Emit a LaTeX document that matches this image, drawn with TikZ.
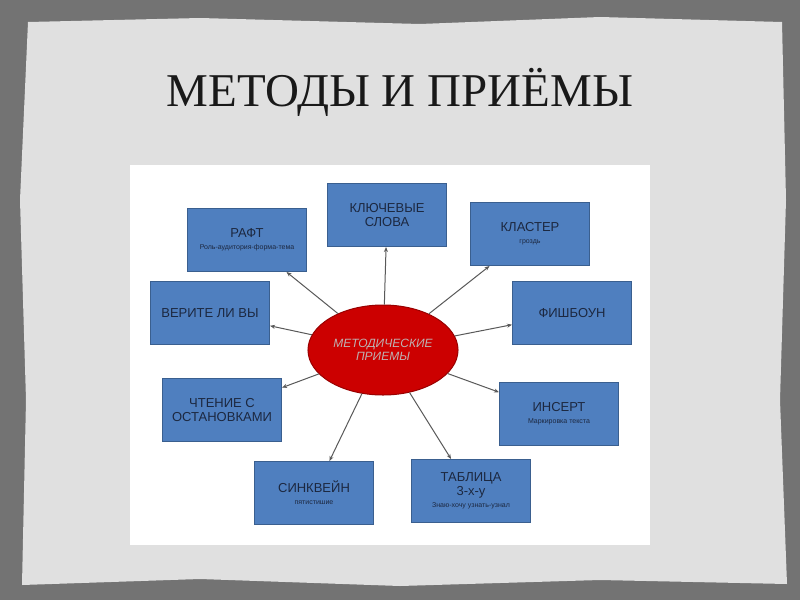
\documentclass[tikz,border=0pt]{standalone}
\usepackage{fontspec}
\setmainfont{Liberation Sans}
\newfontfamily\serifx{Liberation Serif}
\usetikzlibrary{arrows.meta,shapes.geometric}
\definecolor{bx}{HTML}{4F7FBF}
\definecolor{bxd}{HTML}{3A5F8F}
\definecolor{txt}{HTML}{1C2840}
\newcommand\smtxt{\fontsize{7}{8}\selectfont}
\begin{document}
\begin{tikzpicture}[x=1pt,y=-1pt,
 box/.style={draw=bxd,fill=bx,line width=1pt,minimum width=119pt,minimum height=63pt,text=txt,align=center,font=\fontsize{13}{14}\selectfont,anchor=north west},
 arr/.style={draw=black!65,line width=1pt,-{Stealth[length=5pt,width=4pt]}}]
\useasboundingbox (0,0) rectangle (800,600);
\fill[black!55] (0,0) rectangle (800,600);
\fill[black!12] (28,22) -- (200,18) -- (420,24) -- (600,17) -- (782,22) -- (786,200) -- (780,400) -- (787,584) -- (600,580) -- (400,586) -- (200,579) -- (22,585) -- (26,400) -- (20,200) -- cycle;
\node[font=\serifx\fontsize{47}{50}\selectfont,text=black!90] (title) at (400,92) {МЕТОДЫ И ПРИЁМЫ};
\fill[white] (130,165) rectangle (650,545);
\node[box] (kl) at (327,183) {КЛЮЧЕВЫЕ\\СЛОВА};
\node[box] (raft) at (187,208) {РАФТ\\[-2pt]{\smtxt Роль-аудитория-форма-тема}};
\node[box] (kla) at (470,202) {КЛАСТЕР\\[-2pt]{\smtxt гроздь}};
\node[box] (ver) at (150,281) {ВЕРИТЕ ЛИ ВЫ};
\node[box] (fish) at (512,281) {ФИШБОУН};
\node[box] (cht) at (162,378) {ЧТЕНИЕ С\\ОСТАНОВКАМИ};
\node[box] (ins) at (499,382) {ИНСЕРТ\\[-2pt]{\smtxt Маркировка текста}};
\node[box] (sin) at (254,461) {СИНКВЕЙН\\[-2pt]{\smtxt пятистишие}};
\node[box] (tab) at (411,459) {ТАБЛИЦА\\3-х-у\\[-2pt]{\smtxt Знаю-хочу узнать-узнал}};
\node[ellipse,draw=red!60!black,fill=red!80!black,line width=1pt,minimum width=130pt,minimum height=90pt,align=center,text=red!15!black!30,font=\itshape\fontsize{12}{13}\selectfont] (e) at (383,350) {МЕТОДИЧЕСКИЕ\\ПРИЕМЫ};
\foreach \t in {kl,raft,kla,ver,fish,cht,ins,sin,tab} \draw[arr] (e) -- (\t);
\end{tikzpicture}
\end{document}
